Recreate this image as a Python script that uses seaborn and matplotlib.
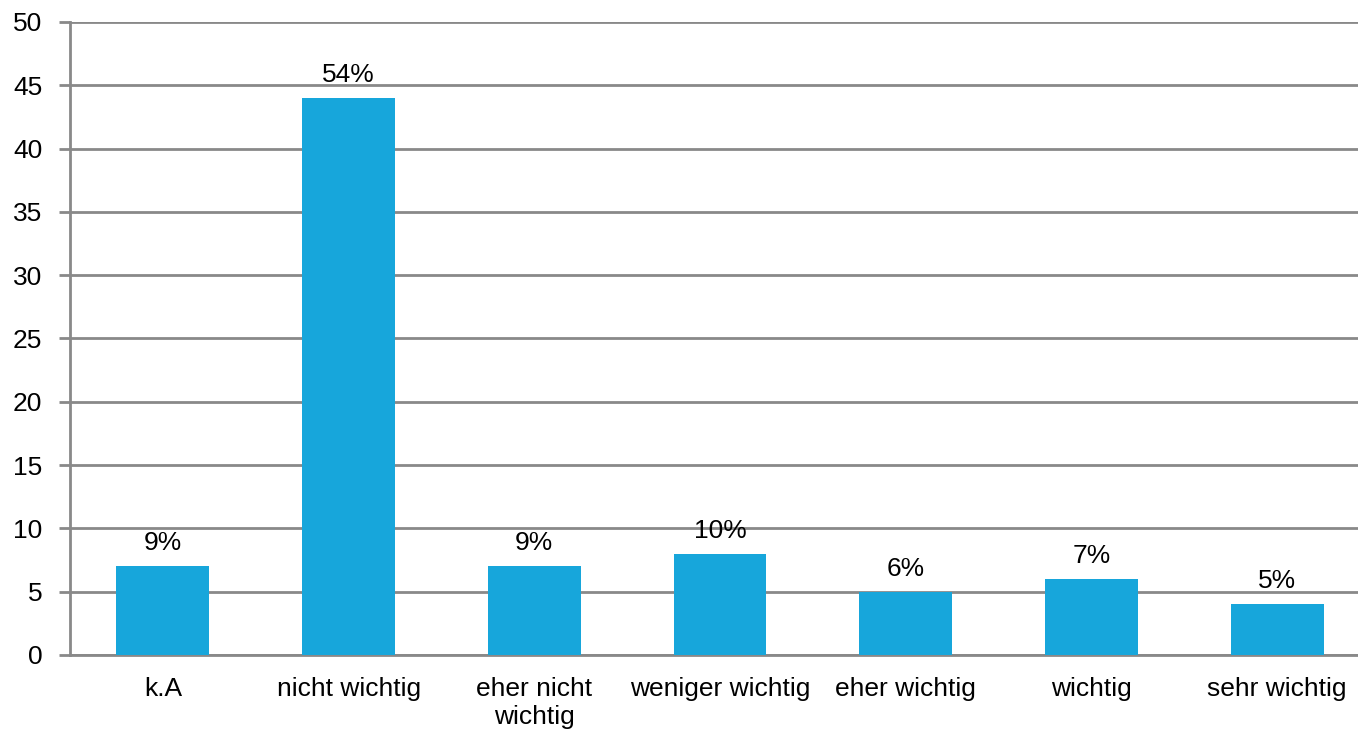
import matplotlib
matplotlib.use("Agg")
import matplotlib.pyplot as plt
import seaborn as sns
import numpy as np
import pandas as pd

kategorien = ["k.A", "nicht wichtig", "eher nicht\nwichtig", "weniger wichtig",
              "eher wichtig", "wichtig", "sehr wichtig"]
anzahl = [7, 44, 7, 8, 5, 6, 4]
prozent = ["9%", "54%", "9%", "10%", "6%", "7%", "5%"]

sns.set_style("white")
plt.rcParams['font.family'] = ['Liberation Sans', 'DejaVu Sans']
plt.rcParams['text.color'] = "black"
plt.rcParams['xtick.color'] = "black"
plt.rcParams['ytick.color'] = "black"

df = pd.DataFrame({"kategorie": kategorien, "anzahl": anzahl})

fig = plt.figure(figsize=(13.58, 7.31), dpi=100)
ax = fig.add_axes([70 / 1358, 1 - 655 / 731, 1300 / 1358, (655 - 22) / 731])

grau = "#898989"
ax.set_axisbelow(True)
ax.yaxis.grid(True, color=grau, linewidth=2)
sns.barplot(data=df, x="kategorie", y="anzahl", color="#17A6DB", saturation=1,
            width=0.5, linewidth=0, ax=ax, zorder=3)

ax.bar_label(ax.containers[0], labels=prozent, padding=8, fontsize=19)

ax.set_ylim(0, 50)
ax.set_yticks(np.arange(0, 51, 5))
ax.set_xlim(-0.5, len(kategorien) - 0.5)
ax.set_xticks(np.arange(-0.5, len(kategorien), 1), minor=True)
ax.tick_params(axis="x", which="major", length=0, pad=16, labelsize=19, labelcolor="black")
ax.tick_params(axis="x", which="minor", length=8, width=2, color=grau, direction="out")
ax.tick_params(axis="y", length=8, width=2, color=grau, labelsize=19, pad=12, left=True,
               labelcolor="black")
ax.set_xlabel("")
ax.set_ylabel("")

for s in ["top", "right"]:
    ax.spines[s].set_visible(False)
for s in ["left", "bottom"]:
    ax.spines[s].set_color(grau)
    ax.spines[s].set_linewidth(2)

fig.savefig("out.png", dpi=100)
